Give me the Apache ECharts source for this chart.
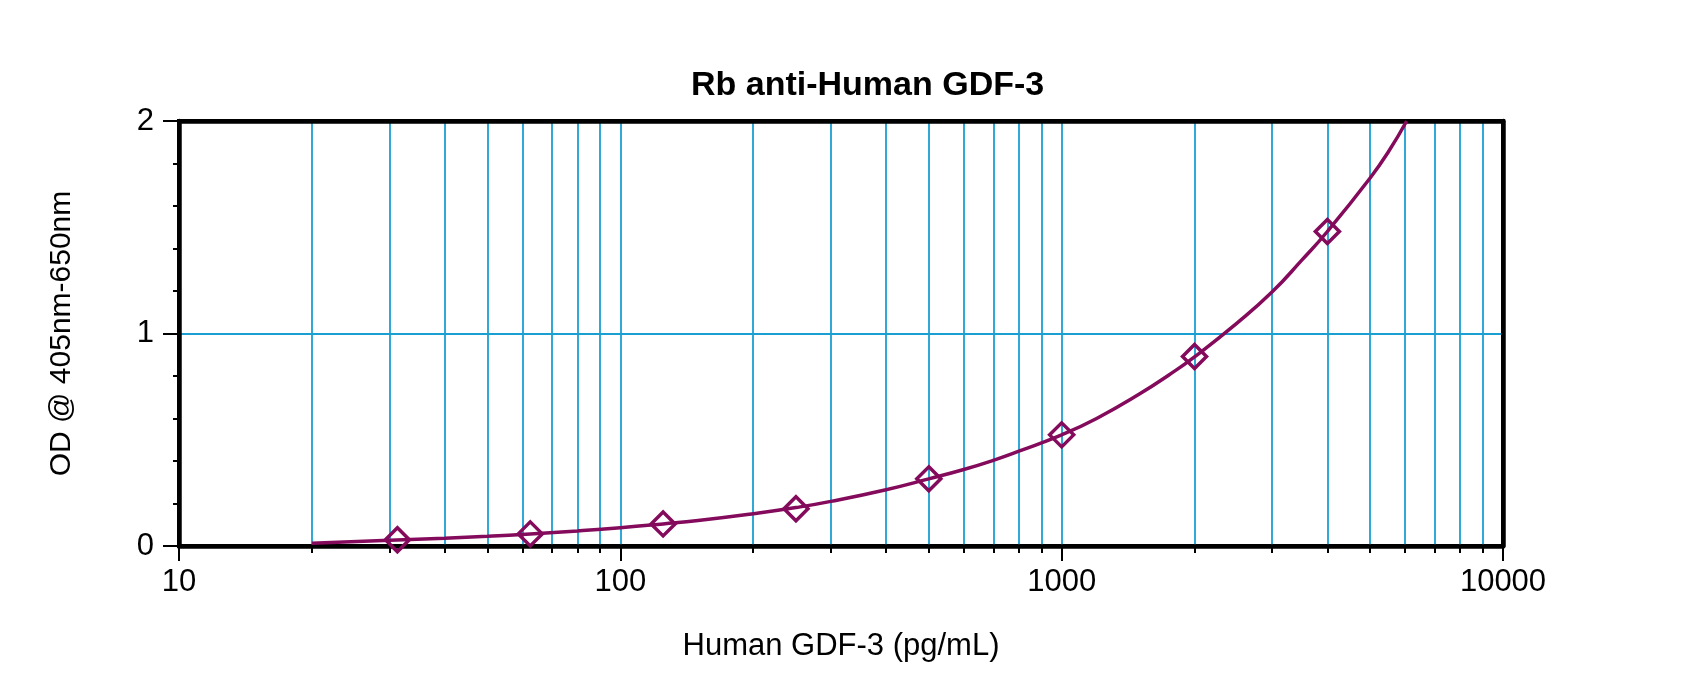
<!DOCTYPE html>
<html lang="en">
<head>
    <meta charset="utf-8">
    <title>Rb anti-Human GDF-3</title>
    <style>
        html, body { margin: 0; padding: 0; background: #fff; }
        #chart { width: 1700px; height: 676px; }
    </style>
</head>
<body>
    <div id="chart"></div>
    <script src="https://cdn.jsdelivr.net/npm/echarts@6/dist/echarts.min.js"></script>
    <script>
        // standards (two-fold dilution) and their mean OD
        var stdConc = [31.25, 62.5, 125, 250, 500, 1000, 2000, 4000];
        var stdOD = [0.029, 0.057, 0.104, 0.175, 0.316, 0.523, 0.892, 1.48];

        // fitted curve
        var fitConc = [20, 30, 40, 50, 62.5, 80, 100, 125, 150, 200, 250, 300, 400, 500, 600, 700, 800,
            1000, 1200, 1500, 1750, 2000, 2500, 3000, 3500, 4000, 5000, 5500, 6050];
        var fitOD = [0.013, 0.027, 0.037, 0.046, 0.057, 0.071, 0.086, 0.104, 0.12, 0.152, 0.181, 0.21, 0.265, 0.316, 0.36, 0.403, 0.446,
            0.523, 0.60, 0.715, 0.805, 0.89, 1.05, 1.196, 1.345, 1.48, 1.732, 1.855, 2.0];

        // x ticks
        var majorTicks = [10, 100, 1000, 10000];
        var minorTicks = [20, 30, 40, 50, 60, 70, 80, 90, 100, 200, 300, 400, 500, 600, 700, 800, 900,
            1000, 2000, 3000, 4000, 5000, 6000, 7000, 8000, 9000];

        var titleText = "Rb anti-Human GDF-3";
        var xName = "Human GDF-3 (pg/mL)";
        var yName = "OD @ 405nm-650nm";

        var font = "'Liberation Sans', Arial, sans-serif";
        var gridBlue = "#1b9fd3";
        var curveColor = "#840a5c";

        var chart = echarts.init(document.getElementById("chart"));

        chart.setOption({
            animation: false,
            backgroundColor: "#fff",
            title: {
                text: titleText,
                left: 686,
                top: 64,
                textStyle: { fontFamily: font, fontSize: 34, fontWeight: "bold", color: "#000" }
            },
            grid: {
                left: 179, right: 197, top: 121, bottom: 130,
                show: true, borderColor: "#000", borderWidth: 4, backgroundColor: "transparent"
            },
            xAxis: [{
                // main log axis: data, major ticks, labels
                type: "log",
                logBase: 10,
                min: 10,
                max: 10000,
                position: "bottom",
                name: xName,
                nameLocation: "middle",
                nameGap: 85,
                nameTextStyle: { fontFamily: font, fontSize: 31, color: "#000" },
                axisLine: { show: true, lineStyle: { color: "#000", width: 4.5 } },
                axisTick: { show: true, length: 15, lineStyle: { color: "#000", width: 2 } },
                axisLabel: {
                    fontFamily: font, fontSize: 31, color: "#000", margin: 21,
                    formatter: function (v) { return String(Math.round(v)); }
                },
                splitLine: { show: false },
                minorTick: { show: false }
            }, {
                // helper axis in decades for the 2..9 ticks and grid lines
                type: "value",
                min: 1,
                max: 4,
                position: "bottom",
                axisLine: { show: false },
                axisLabel: { show: false },
                axisTick: {
                    show: true, length: 7,
                    customValues: minorTicks.map(function (v) { return Math.log10(v); }),
                    lineStyle: { color: "#000", width: 2 }
                },
                splitLine: { show: true, lineStyle: { color: gridBlue, width: 1.8 } }
            }, {
                type: "log", min: 10, max: 10000, position: "top",
                axisLine: { show: true, lineStyle: { color: "#000", width: 4.5 } },
                axisTick: { show: false }, axisLabel: { show: false }, splitLine: { show: false }
            }],
            yAxis: [{
                type: "value",
                min: 0,
                max: 2,
                interval: 1,
                position: "left",
                name: yName,
                nameLocation: "middle",
                nameRotate: 90,
                nameGap: 102,
                nameTextStyle: { fontFamily: font, fontSize: 30, color: "#000" },
                axisLine: { show: true, lineStyle: { color: "#000", width: 4.5 } },
                axisTick: { show: true, length: 16, lineStyle: { color: "#000", width: 2 } },
                minorTick: { show: true, splitNumber: 5, length: 6, lineStyle: { color: "#000", width: 2 } },
                axisLabel: { fontFamily: font, fontSize: 31, color: "#000", margin: 25 },
                splitLine: { show: true, lineStyle: { color: gridBlue, width: 2.2 } }
            }, {
                type: "value", min: 0, max: 2, position: "right",
                axisLine: { show: true, lineStyle: { color: "#000", width: 4.5 } },
                axisTick: { show: false }, axisLabel: { show: false }, splitLine: { show: false }
            }],
            series: [{
                name: "fit",
                type: "line",
                xAxisIndex: 0,
                yAxisIndex: 0,
                data: fitConc.map(function (c, i) { return [c, fitOD[i]]; }),
                smooth: 0.5,
                showSymbol: false,
                clip: true,
                lineStyle: { color: curveColor, width: 3.5 },
                z: 3
            }, {
                name: "standards",
                type: "scatter",
                xAxisIndex: 0,
                yAxisIndex: 0,
                data: stdConc.map(function (c, i) { return [c, stdOD[i]]; }),
                symbol: "diamond",
                symbolSize: 24,
                itemStyle: { color: "rgba(255,255,255,0)", borderColor: curveColor, borderWidth: 3.5, opacity: 1 },
                z: 4
            }]
        });
    </script>
</body>
</html>
